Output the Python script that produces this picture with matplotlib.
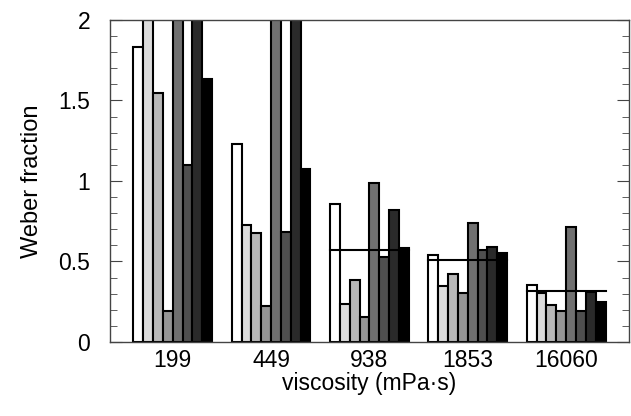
import numpy as np
import matplotlib
matplotlib.use('Agg')
import matplotlib.pyplot as plt
from matplotlib.ticker import MultipleLocator

viscosity = ['199', '449', '938', '1853', '16060']
# one row per viscosity, one column per subject (bars above 2 are clipped in the plot)
weber = [
    [1.83, 2.60, 1.545, 0.19, 2.60, 1.10, 2.60, 1.635],
    [1.23, 0.725, 0.677, 0.224, 2.60, 0.68, 2.60, 1.075],
    [0.857, 0.236, 0.385, 0.155, 0.985, 0.526, 0.818, 0.584],
    [0.54, 0.348, 0.422, 0.306, 0.741, 0.573, 0.59, 0.551],
    [0.352, 0.306, 0.228, 0.195, 0.712, 0.195, 0.313, 0.25],
]
mean_line = [None, None, 0.57, 0.509, 0.319]
shades = ['#ffffff', '#dcdcdc', '#b8b8b8', '#959595', '#707070', '#4f4f4f', '#2a2a2a', '#000000']
yticks = [0, 0.5, 1, 1.5, 2]
ylabels = ['0', '0.5', '1', '1.5', '2']

plt.rcParams['font.family'] = ['Liberation Sans', 'DejaVu Sans']

fig = plt.figure(figsize=(6.31, 4.16), dpi=100)
ax = fig.add_axes([0.174, 0.178, 0.823, 0.774])

w = 0.1
n = len(shades)
x = np.arange(1, len(viscosity) + 1)
data = np.array(weber)
for j in range(n):
    ax.bar(x + (j - (n - 1) / 2) * w, data[:, j], width=w, color=shades[j],
           edgecolor='black', linewidth=1.5, zorder=2)

for i, m in enumerate(mean_line):
    if m is not None:
        ax.plot([x[i] - n * w / 2, x[i] + n * w / 2], [m, m], color='black', lw=1.5, zorder=3)

ax.set_xlim(0.36, 5.64)
ax.set_ylim(0, 2)
ax.set_xticks(x)
ax.set_xticklabels(viscosity)
ax.set_yticks(yticks)
ax.set_yticklabels(ylabels)
ax.yaxis.set_minor_locator(MultipleLocator(0.1))
ax.tick_params(axis='x', length=0, labelsize=16.5, pad=5)
ax.tick_params(axis='y', which='major', direction='in', length=8.5, width=0.8,
               right=True, labelsize=16.5, pad=14, color='#444444')
ax.tick_params(axis='y', which='minor', direction='in', length=5, width=0.6,
               right=True, color='#444444')
for s in ax.spines.values():
    s.set_color('#444444')
    s.set_linewidth(1.0)
    s.set_zorder(4)

ax.set_xlabel('viscosity (mPa·s)', fontsize=16.5, labelpad=0)
ax.set_ylabel('Weber fraction', fontsize=17, labelpad=11)

fig.savefig('out.png', dpi=100)
